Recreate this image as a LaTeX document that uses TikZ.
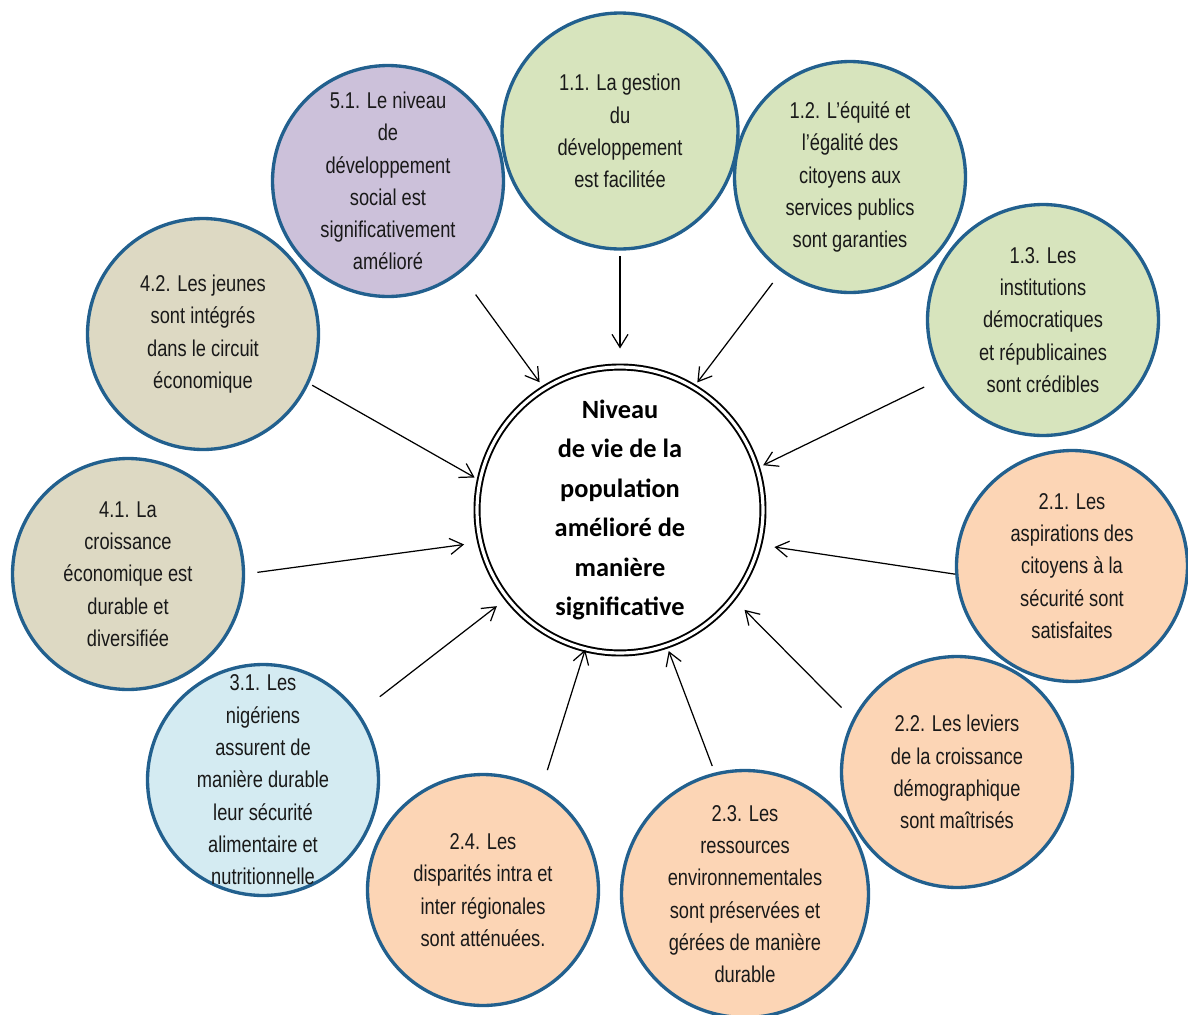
\documentclass[tikz,border=0pt]{standalone}
\usepackage{fontspec}
\setmainfont{Liberation Sans}[FakeStretch=0.8]
\newfontfamily\titlefont{Carlito}
\usetikzlibrary{arrows.meta}
\definecolor{rimblue}{HTML}{22608E}
\definecolor{greengoal}{HTML}{D7E4BD}
\definecolor{peachgoal}{HTML}{FCD5B5}
\definecolor{tangoal}{HTML}{DDD9C3}
\definecolor{bluegoal}{HTML}{D4EBF2}
\definecolor{violetgoal}{HTML}{CCC1DA}

\begin{document}
\begin{tikzpicture}
[x=0.02cm, y=-0.02cm,
    goal/.style={circle, draw=rimblue, line width=1.9pt, inner sep=0pt, minimum size=4.62cm},
    every label/.style={align=center, text=black!90, font=\fontsize{13}{18.4}\selectfont},
    push/.style={-{Straight Barb[length=2.6mm,width=3.2mm]}, line width=0.7pt}]
\useasboundingbox (0,0) rectangle (1188,1015);
\node [goal, fill=violetgoal, label=center:{5.1. Le niveau\\de\\développement\\social est\\significativement\\amélioré}] (n51) at (388,181) {};
\node [goal, fill=tangoal, label=center:{4.2. Les jeunes\\sont intégrés\\dans le circuit\\économique}] (n42) at (203,334) {};
\node [goal, fill=tangoal, label=center:{4.1. La\\croissance\\économique est\\durable et\\diversifiée}] (n41) at (128,574) {};
\node [goal, fill=bluegoal, label=center:{3.1. Les\\nigériens\\assurent de\\manière durable\\leur sécurité\\alimentaire et\\nutritionnelle}] (n31) at (263,780) {};
\node [goal, fill=greengoal, minimum size=4.72cm, label=center:{1.1. La gestion\\du\\développement\\est facilitée}] (n11) at (620,131) {};
\node [goal, fill=greengoal, label=center:{1.2. L’équité et\\l’égalité des\\citoyens aux\\services publics\\sont garanties}] (n12) at (850,177) {};
\node [goal, fill=greengoal, label=center:{1.3. Les\\institutions\\démocratiques\\et républicaines\\sont crédibles}] (n13) at (1043,320) {};
\node [goal, fill=peachgoal, label=center:{2.1. Les\\aspirations des\\citoyens à la\\sécurité sont\\satisfaites}] (n21) at (1072,566) {};
\node [goal, fill=peachgoal, label=center:{2.2. Les leviers\\de la croissance\\démographique\\sont maîtrisés}] (n22) at (957,772) {};
\node [goal, fill=peachgoal, label=center:{2.4. Les\\disparités intra et\\inter régionales\\sont atténuées.}] (n24) at (483,890) {};
\node [goal, fill=peachgoal, minimum size=4.94cm, label=center:{2.3. Les\\ressources\\environnementales\\sont préservées et\\gérées de manière\\durable}] (n23) at (745,894) {};
\node [circle, draw, double, double distance=1.8pt, line width=1.1pt, minimum size=5.72cm, inner sep=0pt, align=center,
    font=\titlefont\bfseries\fontsize{15}{22.5}\selectfont] (centre) at (620,510)
    {Niveau\\de vie de la\\population\\amélioré de\\manière\\significative};
\draw [push, shorten <=3pt, shorten >=10pt] (n11.-90) -- (centre.90);
\draw [push, shorten <=8pt, shorten >=3pt] (n12.234) -- (centre.59);
\draw [push, shorten <=11pt, shorten >=3.5pt] (n13.210) -- (centre.17);
\draw [push, shorten <=0pt, shorten >=8.5pt] (n21.184) -- (centre.-14);
\draw [push, shorten <=9pt, shorten >=9pt] (n22.153) -- (centre.-38);
\draw [push, shorten <=4pt, shorten >=3pt] (n23.104) -- (centre.-71);
\draw [push, shorten <=11pt, shorten >=0pt] (n24.60) -- (centre.-104);
\draw [push, shorten <=15pt, shorten >=7pt] (n31.35) -- (centre.-142);
\draw [push, shorten <=7pt, shorten >=9pt] (n41.0) -- (centre.-167);
\draw [push, shorten <=2pt, shorten >=3pt] (n42.-25) -- (centre.168);
\draw [push, shorten <=15pt, shorten >=4pt] (n51.-52) -- (centre.122);
\end{tikzpicture}
\end{document}
